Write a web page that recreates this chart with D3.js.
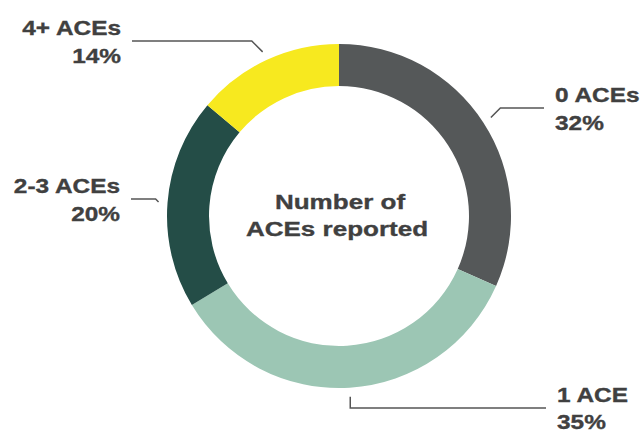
<!DOCTYPE html>
<html>
<head>
<meta charset="utf-8">
<script src="https://cdn.jsdelivr.net/npm/d3@7"></script>
<style>
  body { margin: 0; background: #ffffff; }
  text { font-family: "Liberation Sans", Arial, sans-serif; font-weight: bold; fill: #404040; stroke: #404040; stroke-width: 0.35px; }
</style>
</head>
<body>
<div id="canvas"></div>
<script>
"use strict"
// chart data
let categories = ["0 ACEs", "1 ACE", "2-3 ACEs", "4+ ACEs"];
let percents = [32, 35, 20, 14];
let centerLines = ["Number of", "ACEs reported"];

let svgWidth = 641;
let svgHeight = 432;

let centerX = 339;
let centerY = 216;
let outerRadius = 172;
let innerRadius = 130;
let leaderRadius = 181;

let colors = ["#555859", "#9cc6b4", "#244d47", "#f7e91f"];

// where each label sits: x, first baseline, gap to second line, anchor, and how the leader bends
let labelLayout = [
    {x: 555, y: 102, gap: 28, anchor: "start", bend: "diag"},
    {x: 557, y: 402, gap: 27, anchor: "start", bend: "vert"},
    {x: 120, y: 193, gap: 28, anchor: "end", bend: "diag"},
    {x: 121, y: 35, gap: 28, anchor: "end", bend: "diag"}
];

let svg = d3.select("#canvas")
    .append("svg")
    .attr("width", svgWidth)
    .attr("height", svgHeight);

let chart = svg.append("g")
    .attr("transform", "translate(" + centerX + "," + centerY + ")");

let pie = d3.pie()
    .sort(null)
    .value(function(d) { return d; });

let arcs = pie(percents);

let arc = d3.arc()
    .innerRadius(innerRadius)
    .outerRadius(outerRadius);

// ring slices
chart.selectAll("path.slice")
    .data(arcs)
    .join("path")
    .attr("class", "slice")
    .attr("d", arc)
    .attr("fill", function(d, i) { return colors[i]; });

// leader lines: start just outside the ring at the slice middle, bend, then run flat to the label
let textScale = 1.22;
arcs.forEach(function(d, i) {
    let mid = (d.startAngle + d.endAngle) / 2;
    let sx = centerX + leaderRadius * Math.sin(mid);
    let sy = centerY - leaderRadius * Math.cos(mid);
    let layout = labelLayout[i];
    let lineY = layout.y + 6;
    let side = layout.anchor == "start" ? 1 : -1;
    let ex = sx;
    if (layout.bend == "diag") {
        ex = sx + side * Math.abs(lineY - sy);
    }
    let endX = layout.x - side * 11;
    svg.append("polyline")
        .attr("points", [[sx, sy], [ex, lineY], [endX, lineY]].map(function(p) { return p.join(","); }).join(" "))
        .attr("fill", "none")
        .attr("stroke", "#555555")
        .attr("stroke-width", 1.5);

    let label = svg.append("g")
        .attr("transform", "translate(" + layout.x + "," + layout.y + ") scale(" + textScale + ",1)");
    label.append("text")
        .attr("text-anchor", layout.anchor)
        .attr("font-size", 20)
        .text(categories[i]);
    label.append("text")
        .attr("y", layout.gap)
        .attr("text-anchor", layout.anchor)
        .attr("font-size", 20)
        .text(percents[i] + "%");
});

// centre title
centerLines.forEach(function(line, i) {
    svg.append("g")
        .attr("transform", "translate(" + (centerX + (i == 0 ? 1 : -2)) + "," + (209 + i * 27) + ") scale(1.24,1)")
        .append("text")
        .attr("text-anchor", "middle")
        .attr("font-size", 21)
        .text(line);
});
</script>
</body>
</html>
